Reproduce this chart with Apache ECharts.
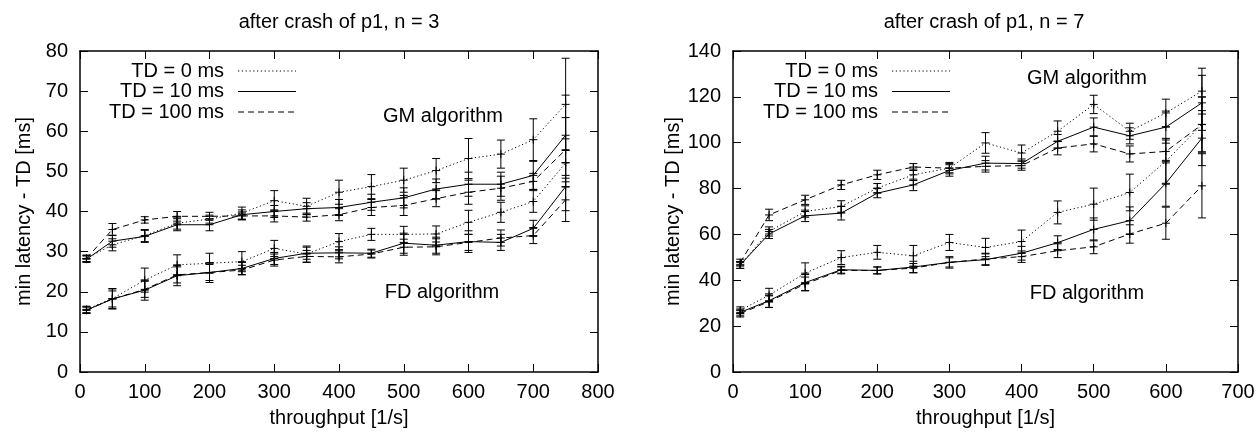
<!DOCTYPE html>
<html>
<head>
<meta charset="utf-8">
<script src="https://cdn.jsdelivr.net/npm/echarts@6/dist/echarts.min.js"></script>
<style>html,body{margin:0;padding:0;background:#fff}#c{width:1258px;height:433px}</style>
</head>
<body>
<div id="c"></div>
<script>
// ---------- data ----------
const titles = ['after crash of p1, n = 3', 'after crash of p1, n = 7'];
const tdNames = ['TD = 0 ms', 'TD = 10 ms', 'TD = 100 ms'];
const xTitle = 'throughput [1/s]';
const yTitle = 'min latency - TD [ms]';

// left plot (n = 3)
const xN3 = [10, 50, 100, 150, 200, 250, 300, 350, 400, 450, 500, 550, 600, 650, 700, 750];
const n3GM0   = [28.3, 31.7, 34.0, 37.1, 38.1, 39.6, 42.7, 41.3, 44.8, 46.2, 47.8, 50.2, 53.2, 54.3, 57.9, 66.7];
const n3GM10  = [28.1, 32.6, 33.8, 36.7, 36.7, 39.2, 40.0, 40.7, 41.0, 42.3, 43.4, 45.6, 46.8, 46.8, 49.0, 59.0];
const n3GM100 = [28.3, 35.5, 37.9, 38.8, 38.8, 38.9, 38.9, 38.6, 39.2, 41.0, 41.5, 43.2, 44.8, 45.8, 47.5, 55.4];
const n3FD0   = [15.6, 18.3, 22.9, 26.7, 27.1, 27.5, 30.8, 29.4, 32.5, 34.3, 34.3, 34.4, 37.3, 39.8, 42.5, 52.1];
const n3FD10  = [15.4, 18.2, 20.4, 24.0, 24.8, 25.8, 28.3, 29.6, 29.7, 29.6, 32.1, 31.6, 32.5, 32.3, 35.8, 46.2];
const n3FD100 = [15.4, 18.2, 20.6, 24.2, 24.8, 25.4, 27.9, 28.8, 28.7, 29.4, 31.1, 31.2, 32.3, 33.4, 34.0, 42.9];
const n3GM0e   = [0.8, 1.5, 1.5, 1.5, 1.0, 1.5, 2.5, 2.0, 3.0, 3.0, 3.0, 3.0, 5.0, 3.5, 5.2, 11.5];
const n3GM10e  = [0.8, 1.5, 1.5, 1.5, 1.5, 1.2, 1.5, 1.5, 2.0, 2.0, 2.5, 2.5, 3.0, 3.0, 3.5, 10.0];
const n3GM100e = [0.8, 1.5, 0.8, 1.2, 1.0, 1.0, 1.5, 1.0, 1.5, 2.0, 2.5, 2.0, 3.0, 3.0, 2.0, 8.0];
const n3FD0e   = [0.8, 2.5, 3.0, 2.5, 2.5, 2.5, 2.0, 2.0, 2.0, 1.5, 2.0, 2.0, 3.0, 2.5, 2.7, 6.0];
const n3FD10e  = [0.8, 2.5, 2.5, 2.5, 2.5, 1.5, 1.5, 1.5, 1.5, 1.0, 2.5, 2.0, 2.7, 2.0, 2.0, 6.0];
const n3FD100e = [0.8, 2.0, 2.0, 2.0, 2.0, 1.2, 1.5, 1.5, 1.5, 1.0, 2.0, 2.0, 2.0, 2.0, 2.0, 5.4];

// right plot (n = 7)
const xN7 = [10, 50, 100, 150, 200, 250, 300, 350, 400, 450, 500, 550, 600, 650];
const n7GM0   = [46.7, 61.3, 70.0, 72.2, 80.2, 86.0, 88.9, 99.9, 95.5, 105.0, 116.7, 105.0, 113.0, 122.5];
const n7GM10  = [46.7, 60.2, 68.1, 69.3, 78.0, 81.6, 87.9, 91.1, 90.9, 100.6, 106.8, 103.0, 106.8, 117.4];
const n7GM100 = [47.7, 68.5, 75.1, 81.6, 86.0, 89.4, 88.9, 89.7, 90.0, 97.7, 99.5, 95.1, 96.2, 107.9];
const n7FD0   = [26.9, 33.5, 43.1, 49.9, 52.2, 50.7, 56.5, 54.3, 56.9, 69.6, 73.2, 78.3, 91.9, 108.0];
const n7FD10  = [26.0, 31.1, 39.0, 44.6, 44.3, 45.8, 47.8, 49.0, 51.8, 56.4, 62.2, 66.0, 82.3, 102.0];
const n7FD100 = [25.5, 30.7, 38.4, 44.3, 44.3, 45.3, 47.8, 49.3, 50.3, 52.9, 54.6, 60.2, 64.9, 81.2];
const n7GM0e   = [1.5, 2.0, 2.5, 2.5, 2.0, 2.5, 2.5, 4.5, 3.5, 4.5, 4.0, 3.5, 6.0, 10.0];
const n7GM10e  = [1.5, 2.0, 2.5, 3.0, 2.0, 2.5, 2.5, 3.0, 2.0, 3.0, 4.0, 3.5, 7.0, 12.0];
const n7GM100e = [1.5, 2.5, 2.0, 2.0, 2.0, 1.5, 2.0, 2.5, 2.0, 3.0, 3.5, 3.5, 5.0, 12.0];
const n7FD0e   = [1.5, 3.0, 4.5, 3.0, 3.0, 4.5, 3.5, 4.0, 5.0, 5.0, 7.0, 8.0, 10.0, 12.0];
const n7FD10e  = [1.5, 3.0, 3.5, 1.5, 1.5, 2.5, 2.5, 2.5, 3.0, 3.0, 5.0, 6.0, 10.0, 12.0];
const n7FD100e = [1.5, 2.5, 3.0, 1.5, 1.5, 2.0, 2.0, 2.5, 2.5, 3.0, 3.0, 4.0, 7.0, 14.0];

// ---------- styling ----------
const FONT = "'Liberation Sans', Arial, sans-serif";
const dashTypes = [[1.2, 2.6], 'solid', [6, 4]];

const chart = echarts.init(document.getElementById('c'), null, {renderer: 'canvas'});

function errRender(params, api) {
  const x = api.value(0), y = api.value(1), e = api.value(2);
  const p = api.coord([x, y]);
  const hi = api.coord([x, y + e]);
  const lo = api.coord([x, y - e]);
  const cap = 4, m = 4;
  const st = {stroke: '#000', lineWidth: 1};
  return {
    type: 'group',
    children: [
      {type: 'line', shape: {x1: p[0], y1: hi[1], x2: p[0], y2: lo[1]}, style: st},
      {type: 'line', shape: {x1: p[0] - cap, y1: hi[1], x2: p[0] + cap, y2: hi[1]}, style: st},
      {type: 'line', shape: {x1: p[0] - cap, y1: lo[1], x2: p[0] + cap, y2: lo[1]}, style: st},
      {type: 'line', shape: {x1: p[0] - m, y1: p[1], x2: p[0] + m, y2: p[1]}, style: st},
      {type: 'line', shape: {x1: p[0], y1: p[1] - m, x2: p[0], y2: p[1] + m}, style: st}
    ]
  };
}

const series = [];
function addPlot(xs, sets, axisIdx) {
  sets.forEach(function (s) {
    series.push({
      name: tdNames[s.td], type: 'line', xAxisIndex: axisIdx, yAxisIndex: axisIdx,
      data: xs.map(function (x, i) { return [x, s.v[i]]; }),
      symbol: 'none', animation: false, silent: true,
      lineStyle: {color: '#000', width: 1, type: dashTypes[s.td]},
      itemStyle: {color: '#000'}, z: 3
    });
    series.push({
      name: 'err', type: 'custom', xAxisIndex: axisIdx, yAxisIndex: axisIdx,
      data: xs.map(function (x, i) { return [x, s.v[i], s.e[i]]; }),
      renderItem: errRender, animation: false, silent: true, z: 2
    });
  });
}
addPlot(xN3, [
  {td: 0, v: n3GM0, e: n3GM0e}, {td: 1, v: n3GM10, e: n3GM10e}, {td: 2, v: n3GM100, e: n3GM100e},
  {td: 0, v: n3FD0, e: n3FD0e}, {td: 1, v: n3FD10, e: n3FD10e}, {td: 2, v: n3FD100, e: n3FD100e}
], 0);
addPlot(xN7, [
  {td: 0, v: n7GM0, e: n7GM0e}, {td: 1, v: n7GM10, e: n7GM10e}, {td: 2, v: n7GM100, e: n7GM100e},
  {td: 0, v: n7FD0, e: n7FD0e}, {td: 1, v: n7FD10, e: n7FD10e}, {td: 2, v: n7FD100, e: n7FD100e}
], 1);

const axLine = {show: true, onZero: false, lineStyle: {color: '#000', width: 1.5}};
const axTick = {show: true, inside: true, length: 8, lineStyle: {color: '#000', width: 1}};
const lbl = {color: '#000', fontSize: 20, fontFamily: FONT};

function xAx(grid, max, pos, show) {
  return {
    type: 'value', gridIndex: grid, min: 0, max: max, interval: 100, position: pos,
    axisLine: axLine, axisTick: axTick, splitLine: {show: false},
    axisLabel: Object.assign({show: show, margin: 10}, lbl),
    name: show ? xTitle : '', nameLocation: 'middle', nameGap: 36,
    nameTextStyle: lbl
  };
}
function yAx(grid, max, interval, pos, show) {
  return {
    type: 'value', gridIndex: grid, min: 0, max: max, interval: interval, position: pos,
    axisLine: axLine, axisTick: axTick, splitLine: {show: false},
    axisLabel: Object.assign({show: show, margin: 12}, lbl),
    name: show ? yTitle : '', nameLocation: 'middle', nameGap: 46,
    nameTextStyle: lbl
  };
}

function legendAt(left) {
  return {
    show: true, orient: 'vertical', left: left, top: 61, align: 'right',
    itemWidth: 58, itemHeight: 14, itemGap: 0.5, padding: 0,
    data: tdNames, selectedMode: false,
    itemStyle: {opacity: 0},
    lineStyle: {width: 1, color: '#000'},
    formatter: '{t|{name}}',
    textStyle: {color: '#000', fontSize: 20, fontFamily: FONT,
      rich: {t: {width: 117, align: 'right', fontSize: 20, fontFamily: FONT, color: '#000', padding: [0, 9, 0, 0]}}}
  };
}

function txt(t, x, y) {
  return {type: 'text', x: x, y: y, silent: true, z: 10,
    style: {text: t, fill: '#000', font: '20px ' + FONT, textAlign: 'center', textVerticalAlign: 'middle'}};
}

chart.setOption({
  animation: false,
  backgroundColor: '#fff',
  title: [
    {text: titles[0], left: 339, top: 12, textAlign: 'center', padding: 0,
      textStyle: {fontSize: 20, fontWeight: 'normal', color: '#000', fontFamily: FONT}},
    {text: titles[1], left: 984, top: 12, textAlign: 'center', padding: 0,
      textStyle: {fontSize: 20, fontWeight: 'normal', color: '#000', fontFamily: FONT}}
  ],
  legend: [legendAt(109), legendAt(763)],
  grid: [
    {left: 80, top: 51, width: 518, height: 321, containLabel: false},
    {left: 733, top: 51, width: 505, height: 321, containLabel: false}
  ],
  xAxis: [xAx(0, 800, 'bottom', true), xAx(1, 700, 'bottom', true), xAx(0, 800, 'top', false), xAx(1, 700, 'top', false)],
  yAxis: [yAx(0, 80, 10, 'left', true), yAx(1, 140, 20, 'left', true), yAx(0, 80, 10, 'right', false), yAx(1, 140, 20, 'right', false)],
  series: series,
  graphic: [
    txt('GM algorithm', 443, 116), txt('FD algorithm', 442, 292),
    txt('GM algorithm', 1087, 78), txt('FD algorithm', 1087, 293)
  ]
});
</script>
</body>
</html>
